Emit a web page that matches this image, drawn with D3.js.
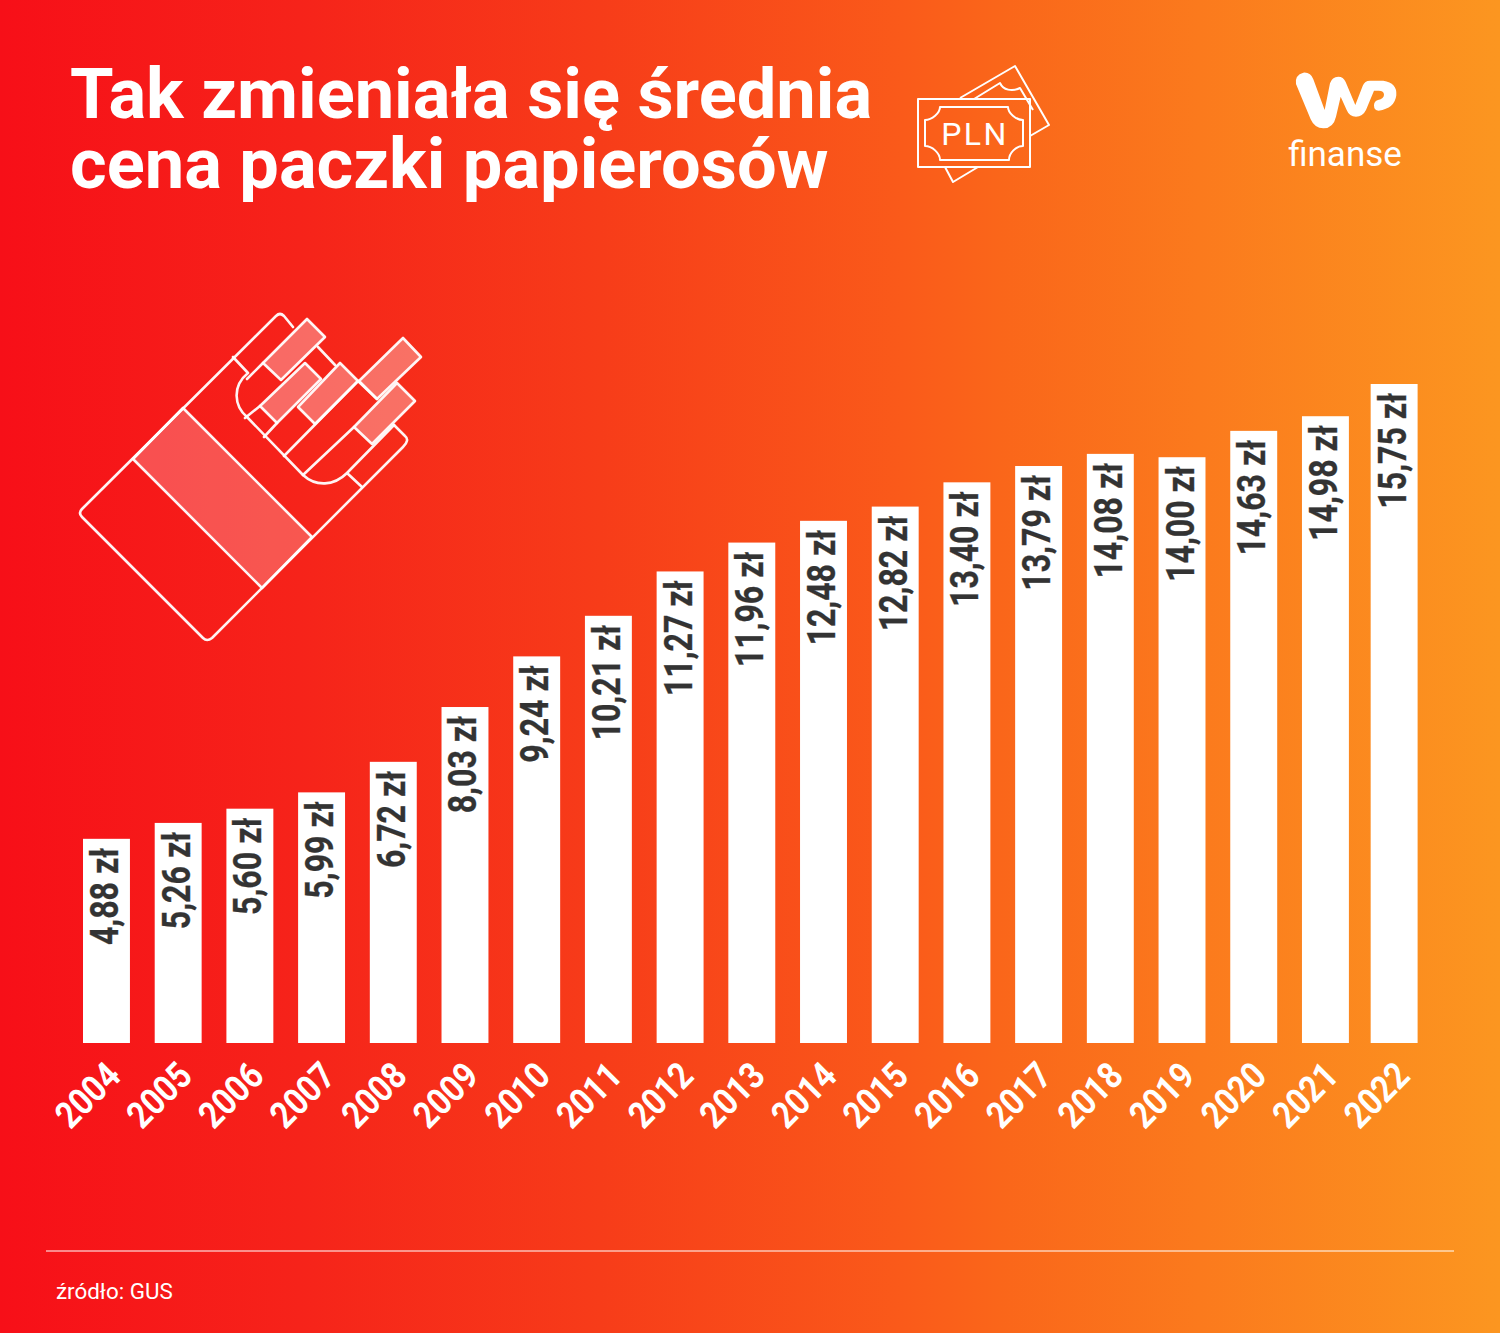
<!DOCTYPE html>
<html lang="pl"><head><meta charset="utf-8">
<script src="https://cdn.jsdelivr.net/npm/d3@7"></script>
<style>html,body{margin:0;padding:0;background:#fff}svg{display:block}text{font-family:Roboto,sans-serif}</style>
</head><body><svg id="c" width="1500" height="1333" viewBox="0 0 1500 1333"></svg>
<script>
const years=["2004","2005","2006","2007","2008","2009","2010","2011","2012","2013","2014","2015","2016","2017","2018","2019","2020","2021","2022"];
const prices=[4.88,5.26,5.60,5.99,6.72,8.03,9.24,10.21,11.27,11.96,12.48,12.82,13.40,13.79,14.08,14.00,14.63,14.98,15.75];
const titleLines=["Tak zmieniała się średnia","cena paczki papierosów"];
const source="źródło: GUS";
const svg=d3.select("#c");
const defs=svg.append("defs");
const g=defs.append("linearGradient").attr("id","bg").attr("x1",0).attr("x2",1).attr("y1",0).attr("y2",0);
[[0,"#f70f18"],[.2,"#f6231a"],[.4,"#f73c19"],[.6,"#fa5a1a"],[.667,"#fa661a"],[.8,"#fb7a1d"],[1,"#fc9620"]].forEach(s=>g.append("stop").attr("offset",s[0]).attr("stop-color",s[1]));
svg.append("rect").attr("width",1500).attr("height",1333).attr("fill","url(#bg)");

// title
svg.selectAll("text.title").data(titleLines).join("text").attr("class","title")
 .attr("x",70).attr("y",(d,i)=>118+i*70).attr("fill","#fff").attr("font-size",70.4).attr("font-weight",700).text(d=>d);

// scales
const x=d3.scaleBand().domain(years).range([83,1420.6]).paddingInner(.3454).paddingOuter(0);
const lastNudge=d=>d==="2022"?-3:0;
const bx=d=>x(d)+lastNudge(d);
const y=d3.scaleLinear().domain([0,15.75]).range([1043,384]);
const data=years.map((yr,i)=>({yr,v:prices[i]}));
svg.append("g").selectAll("rect").data(data).join("rect")
 .attr("x",d=>bx(d.yr)).attr("y",d=>y(d.v)).attr("width",x.bandwidth()).attr("height",d=>y(0)-y(d.v)).attr("fill","#fff");
svg.append("g").selectAll("text").data(data).join("text")
 .attr("transform",d=>`translate(${bx(d.yr)+x.bandwidth()/2+11.5},${y(d.v)+9}) rotate(-90) scale(.845,1)`)
 .attr("text-anchor","end").attr("fill","#333").attr("stroke","#333").attr("stroke-width",.3).attr("font-size",38).attr("font-weight",700)
 .text(d=>d.v.toFixed(2).replace(".",",")+" zł");
const xAxis=x.copy().range([83,1419]);
const ax=svg.append("g").attr("transform","translate(0,1043)").call(d3.axisBottom(xAxis).tickSize(0));
ax.select(".domain").remove();
ax.selectAll("text").attr("transform","translate(-19,52) rotate(-45) scale(.87,1)")
 .attr("x",0).attr("y",0).attr("dy",".35em").attr("text-anchor","middle").attr("fill","#fff").attr("font-size",37).attr("font-weight",700).attr("font-family","Roboto,sans-serif");

// footer
svg.append("line").attr("x1",46).attr("x2",1454).attr("y1",1251).attr("y2",1251).attr("stroke","#fff").attr("stroke-width",1.2);
svg.append("text").attr("x",56).attr("y",1299).attr("fill","#fff").attr("font-size",22.4).text(source);

// cigarette icon
const ic=svg.append("g").attr("fill","none").attr("stroke","#fff").attr("stroke-opacity",.95).attr("stroke-width",2.6).attr("stroke-linejoin","round").attr("stroke-linecap","round");
ic.append("path").attr("fill","rgba(255,255,255,.24)").attr("d","M183 408L133 459L262 588L312 537Z");
ic.append("path").attr("d","M293 327L284 316Q280 312 276 316L82 509Q78 513 82 517L203 638Q207 642 212 638L403 447Q410 440 405 436L394 425");
ic.append("path").attr("d","M233 357L248 373C232 386 234 406 247 417L303 475C316 487 334 486 347 473L394 425M347 473L362 487");
[["M307 319L325 337L281 380L263 363Z"],["M305 363L321 379L277 423L260 406Z"],["M340 363L358 381L315 424L298 407Z"],["M403 338L421 357L377 399L359 381Z"],["M397 383L415 401L372 444L354 427Z"]]
 .forEach(p=>ic.append("path").attr("fill","rgba(255,255,255,.33)").attr("d",p[0]));
ic.append("path").attr("d","M263 363L247 379M260 406L245 418M277 423L264 437M318 347L335 365M358 381L284 456M354 427L303 475M358 381L377 399");

// banknote icon
const pl=svg.append("g").attr("fill","none").attr("stroke","#fff").attr("stroke-width",2).attr("stroke-linejoin","round");
pl.append("path").attr("d","M960 98L1015 66L1049 125L1030 136M945 167L953 182L978 167");
pl.append("path").attr("d","M974 99L1000 83C1003 90 1012 92 1020 88L1033 110");
pl.append("rect").attr("x",918).attr("y",99).attr("width",112).attr("height",68);
pl.append("path").attr("d","M940 107L1008 107C1008 113 1016 120 1023 120L1023 146C1016 146 1009 153 1009 160L940 160C940 153 932 146 925 146L925 120C932 120 940 113 940 107Z");
svg.append("text").attr("x",975).attr("y",145).attr("text-anchor","middle").attr("fill","#fff").attr("font-size",32).attr("letter-spacing",2.5).text("PLN");

// logo
svg.append("path").attr("transform","translate(1280,60) scale(.3333)").attr("fill","#fff")
 .attr("d","M48 72Q44 45 70 38Q92 36 100 58L134 150L150 70Q156 50 175 50Q190 50 197 66L226 135L248 78Q254 62 270 62L310 62Q352 68 349 106Q344 146 296 152Q282 152 282 136Q282 124 294 120Q312 116 312 104Q312 92 296 92L282 92L258 150Q248 170 228 170Q208 170 200 150L182 110L168 170Q160 205 130 205Q104 205 92 178Z");
svg.append("text").attr("x",1345).attr("y",166).attr("text-anchor","middle").attr("fill","#fff").attr("font-size",35).attr("font-weight",400).text("finanse");
</script></body></html>
